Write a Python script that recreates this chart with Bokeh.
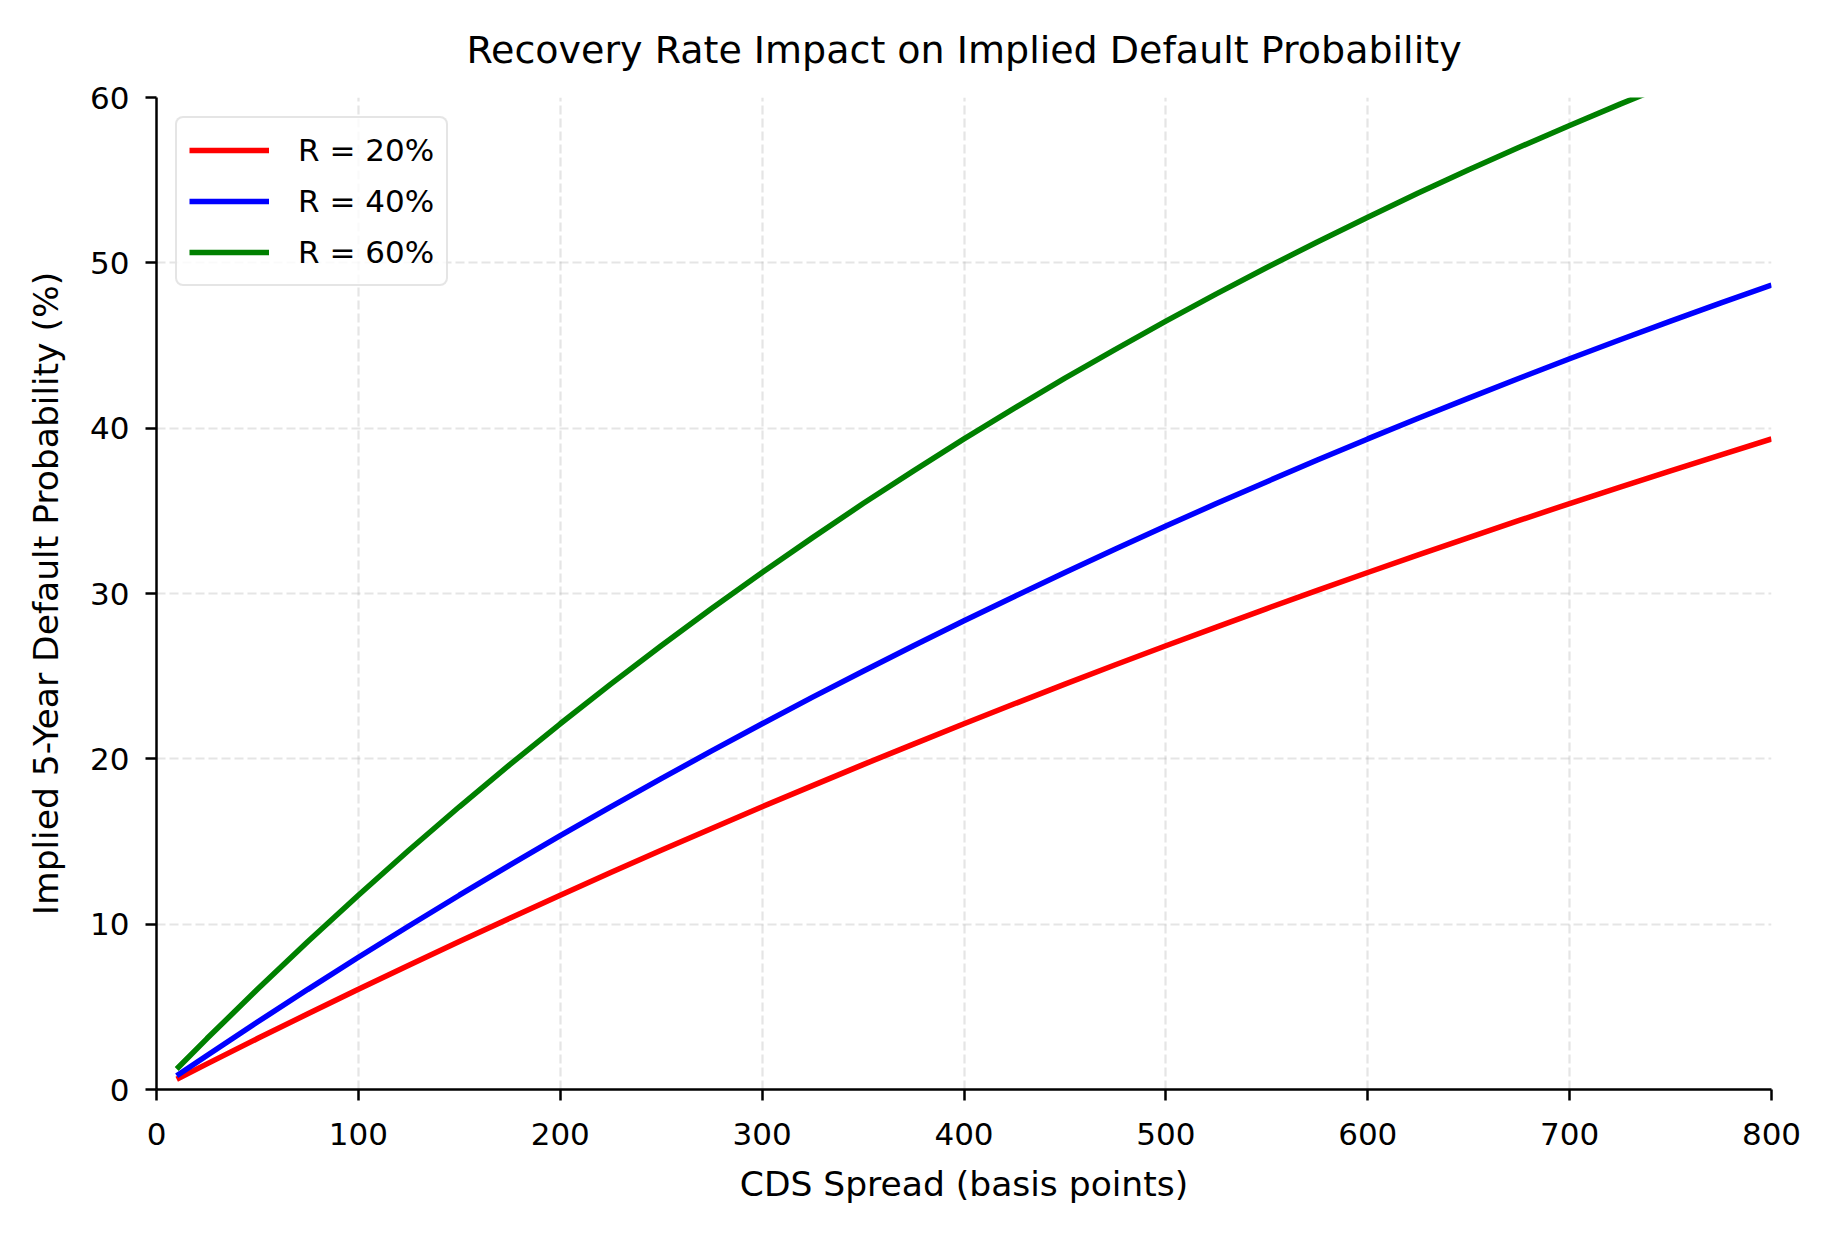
from bokeh.plotting import figure
from bokeh.models import Range1d, FixedTicker, Legend, LegendItem
from bokeh.embed import file_html
from bokeh.resources import INLINE

# CDS spread (basis points)
spread_bp = [10, 25, 50, 75, 100, 125, 150, 175, 200, 225, 250, 275, 300, 325, 350, 375, 400,
             425, 450, 475, 500, 525, 550, 575, 600, 625, 650, 675, 700, 725, 750, 775, 800]

# Implied 5-year default probability (%) by recovery rate
pd_r20 = [0.62, 1.55, 3.08, 4.58, 6.06, 7.52, 8.95, 10.36, 11.75, 13.12, 14.47, 15.79, 17.10, 18.38, 19.65, 20.89, 22.12,
          23.33, 24.52, 25.69, 26.84, 27.97, 29.09, 30.19, 31.27, 32.34, 33.38, 34.42, 35.44, 36.44, 37.42, 38.39, 39.35]
pd_r40 = [0.83, 2.06, 4.08, 6.06, 8.00, 9.89, 11.75, 13.57, 15.35, 17.10, 18.80, 20.48, 22.12, 23.73, 25.30, 26.84, 28.35,
          29.82, 31.27, 32.69, 34.08, 35.44, 36.76, 38.07, 39.35, 40.60, 41.82, 43.02, 44.20, 45.35, 46.47, 47.58, 48.66]
pd_r60 = [1.24, 3.08, 6.06, 8.95, 11.75, 14.47, 17.10, 19.65, 22.12, 24.52, 26.84, 29.09, 31.27, 33.38, 35.44, 37.42, 39.35,
          41.21, 43.02, 44.77, 46.47, 48.12, 49.72, 51.26, 52.76, 54.22, 55.63, 56.99, 58.31, 59.60, 60.84, 62.04, 63.21]

series_labels = ["R = 20%", "R = 40%", "R = 60%"]
series_colors = ["red", "blue", "green"]

x_ticks = [0, 100, 200, 300, 400, 500, 600, 700, 800]
y_ticks = [0, 10, 20, 30, 40, 50, 60]

FONT = "DejaVu Sans"

p = figure(
    width=1818, height=1218,
    output_backend="svg", toolbar_location=None,
    x_range=Range1d(0, 800), y_range=Range1d(0, 60),
    min_border_left=156, min_border_right=47, min_border_top=97, min_border_bottom=129,
    title="Recovery Rate Impact on Implied Default Probability",
)
p.outline_line_color = None
p.background_fill_color = "white"
p.border_fill_color = "white"

p.title.align = "center"
p.title.text_font = FONT
p.title.text_font_size = "38px"
p.title.text_font_style = "normal"
p.title.text_color = "black"
p.title.standoff = 51

for ax in (p.xaxis[0], p.yaxis[0]):
    ax.axis_line_color = "black"
    ax.axis_line_width = 2.5
    ax.major_tick_line_color = "black"
    ax.major_tick_line_width = 2.5
    ax.major_tick_out = 11
    ax.major_tick_in = 0
    ax.minor_tick_line_color = None
    ax.major_label_text_font = FONT
    ax.major_label_text_font_size = "31px"
    ax.major_label_text_color = "black"
    ax.axis_label_text_font = FONT
    ax.axis_label_text_font_size = "34.5px"
    ax.axis_label_text_font_style = "normal"
    ax.axis_label_text_color = "black"

p.xaxis.ticker = FixedTicker(ticks=x_ticks)
p.yaxis.ticker = FixedTicker(ticks=y_ticks)
p.xaxis.axis_label = "CDS Spread (basis points)"
p.yaxis.axis_label = "Implied 5-Year Default Probability (%)"
p.xaxis.major_label_standoff = 22
p.yaxis.major_label_standoff = 16
p.xaxis.axis_label_standoff = 16
p.yaxis.axis_label_standoff = 21

for g in (p.xgrid[0], p.ygrid[0]):
    g.grid_line_color = "#b0b0b0"
    g.grid_line_alpha = 0.33
    g.grid_line_width = 2.2
    g.grid_line_dash = "9 4"

renderers = []
for ys, c in zip([pd_r20, pd_r40, pd_r60], series_colors):
    r = p.line(spread_bp, ys, line_color=c, line_width=5.5)
    renderers.append(r)

legend = Legend(
    items=[LegendItem(label=l, renderers=[r]) for l, r in zip(series_labels, renderers)],
    location="top_left",
    margin=19,
    padding=12,
    spacing=11,
    glyph_width=80,
    glyph_height=40,
    label_standoff=29,
    label_text_font=FONT,
    label_text_font_size="31px",
    label_text_color="black",
    border_line_color="#cccccc",
    border_line_width=2.5,
    background_fill_color="white",
    background_fill_alpha=0.8,
)
if "border_radius" in Legend.properties():
    legend.border_radius = 8
p.add_layout(legend)

open("out.html", "w").write(file_html(p, INLINE))
